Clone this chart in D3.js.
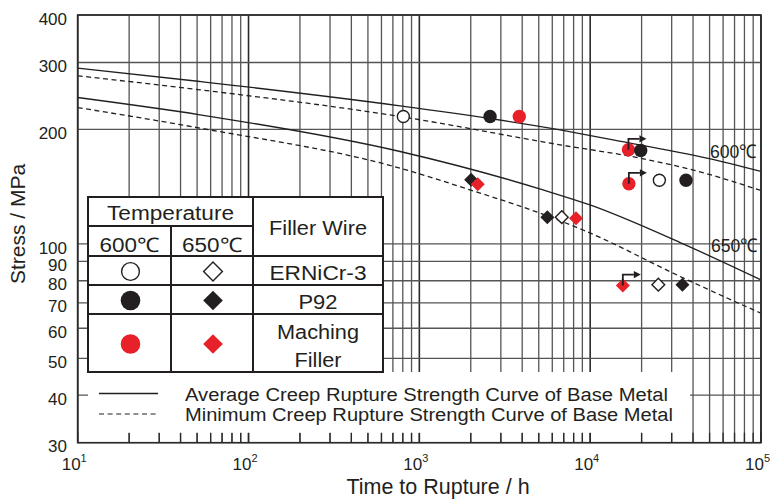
<!DOCTYPE html>
<html><head><meta charset="utf-8">
<script src="https://cdn.jsdelivr.net/npm/d3@7"></script>
<style>
body{margin:0;background:#fff;}
text{font-family:"Liberation Sans",Arial,sans-serif;fill:#231f20;}
</style>
</head><body><svg id="c" width="774" height="499"></svg>
<script>
// ---------- data ----------
const yTickValues = [30,40,50,60,70,80,90,100,200,300,400];
const xDecadeExponents = [1,2,3,4,5];

const avg600Time   = [10, 52, 771, 6668, 13610, 48190, 100000];
const avg600Stress = [290, 267.4, 230.7, 199.5, 187.8, 168.1, 155.1];
const min600Time   = [10, 52, 771, 6668, 19590, 43950, 100000];
const min600Stress = [276.8, 254.3, 216.3, 182.2, 168.1, 154.7, 138.1];
const avg650Time   = [10, 52, 771, 5297, 9977, 34990, 100000];
const avg650Stress = [242.7, 218.6, 175.0, 138.7, 126.6, 100, 80.4];
const min650Time   = [10, 52, 771, 1982, 5821, 9080, 34990, 100000];
const min650Stress = [228.4, 201.6, 158.2, 138.7, 117.8, 108.8, 81.4, 65.7];

const pts600Time   = [806, 2594, 3846, 16750, 19770, 16850, 25410, 36390];
const pts600Stress = [216.4, 216.4, 216.4, 176.8, 176.0, 143.9, 147.1, 147.1];
const pts600Wire   = ["ERNiCr-3","P92","Matching","Matching","P92","Matching","ERNiCr-3","P92"];
const runout600    = [false,false,false,true,false,true,false,false];

const pts650Time   = [2009, 2198, 5610, 6820, 8260, 15530, 25060, 34670];
const pts650Stress = [147.4, 143.6, 117.6, 117.6, 116.8, 77.7, 78.1, 78.1];
const pts650Wire   = ["P92","Matching","P92","ERNiCr-3","Matching","Matching","ERNiCr-3","P92"];
const runout650    = [false,false,false,false,false,true,false,false];

const tempLabels = ["600℃","650℃"];
const wireLabels = ["ERNiCr-3","P92","Maching"];
const legendLabels = ["Average Creep Rupture Strength Curve of Base Metal",
                      "Minimum Creep Rupture Strength Curve of Base Metal"];

// ---------- setup ----------
const RED = "#e8202a", BLACK = "#231f20";
const svg = d3.select("#c");
const x = d3.scaleLog().domain([10, 1e5]).range([77.7, 761]);
const y = d3.scaleLog().domain([30, 400]).range([442.7, 15]);
const isDecade = d => Math.abs(Math.log10(d) - Math.round(Math.log10(d))) < 1e-9;

// grid
const gridX = x.ticks();
svg.append("g").selectAll("line").data(gridX).join("line")
  .attr("x1", d => x(d)).attr("x2", d => x(d))
  .attr("y1", y(400)).attr("y2", y(30))
  .attr("stroke", d => isDecade(d) ? "#2a2a2a" : "#555")
  .attr("stroke-width", d => isDecade(d) ? 1.6 : 1.3);
svg.append("g").selectAll("line").data(yTickValues).join("line")
  .attr("x1", x(10)).attr("x2", x(1e5))
  .attr("y1", d => y(d)).attr("y2", d => y(d))
  .attr("stroke", "#555").attr("stroke-width", 1.3);

// curves
const line = d3.line().curve(d3.curveMonotoneX).x(d => x(d[0])).y(d => y(d[1]));
const curves = [
  [avg600Time, avg600Stress, false],
  [min600Time, min600Stress, true],
  [avg650Time, avg650Stress, false],
  [min650Time, min650Stress, true]
];
curves.forEach(([t, s, dashed]) => {
  svg.append("path").datum(d3.zip(t, s)).attr("d", line)
    .attr("fill", "none").attr("stroke", BLACK).attr("stroke-width", 1.3)
    .attr("stroke-dasharray", dashed ? "5,3.5" : null);
});

// legend white box (below table)
svg.append("rect").attr("x", 88).attr("y", 372).attr("width", 602).attr("height", 61).attr("fill", "#fff");

// bottom inward ticks (visible under legend box)
svg.append("g").selectAll("line").data(gridX).join("line")
  .attr("x1", d => x(d)).attr("x2", d => x(d))
  .attr("y1", y(30)).attr("y2", y(30) - 10)
  .attr("stroke", "#2a2a2a").attr("stroke-width", 1.3);

// frame
svg.append("rect").attr("x", x(10)).attr("y", y(400))
  .attr("width", x(1e5) - x(10)).attr("height", y(30) - y(400))
  .attr("fill", "none").attr("stroke", "#2a2a2a").attr("stroke-width", 1.6);

// y tick labels
svg.append("g").selectAll("text").data(yTickValues).join("text")
  .attr("x", 67).attr("y", d => y(d) + 3.5).attr("dy", "0.36em")
  .attr("text-anchor", "end").attr("font-size", 17).text(d => d);

// x tick labels
const xl = svg.append("g").selectAll("text").data(xDecadeExponents).join("text")
  .attr("x", d => x(Math.pow(10, d)) - 16).attr("y", 470).attr("font-size", 17);
xl.append("tspan").text("10");
xl.append("tspan").attr("dy", -8).attr("font-size", 11).text(d => d);

// axis titles
svg.append("text").attr("x", 438).attr("y", 494).attr("text-anchor", "middle")
  .attr("font-size", 21.5).text("Time to Rupture / h");
svg.append("text").attr("transform", "translate(25,224) rotate(-90)")
  .attr("text-anchor", "middle").attr("font-size", 21).text("Stress / MPa");

// curve labels
svg.append("text").attr("x", 757).attr("y", 158).attr("text-anchor", "end")
  .attr("font-size", 19).attr("textLength", 47).attr("lengthAdjust", "spacingAndGlyphs").text(tempLabels[0]);
svg.append("text").attr("x", 758).attr("y", 251.5).attr("text-anchor", "end")
  .attr("font-size", 19).attr("textLength", 47).attr("lengthAdjust", "spacingAndGlyphs").text(tempLabels[1]);

// markers
function marker(g, cx, cy, temp, wire, size) {
  const fill = wire === "ERNiCr-3" ? "#fff" : (wire === "P92" ? BLACK : RED);
  if (temp === 600) {
    g.append("circle").attr("cx", cx).attr("cy", cy).attr("r", wire === "ERNiCr-3" ? size - 0.7 : size)
      .attr("fill", fill).attr("stroke", wire === "ERNiCr-3" ? BLACK : "none").attr("stroke-width", 1.4);
  } else {
    const h = wire === "ERNiCr-3" ? size + 0.2 : size + 0.8;
    g.append("path").attr("d", `M${cx},${cy - h}L${cx + h},${cy}L${cx},${cy + h}L${cx - h},${cy}Z`)
      .attr("fill", fill).attr("stroke", wire === "ERNiCr-3" ? BLACK : "none").attr("stroke-width", 1.4);
  }
}
const gp = svg.append("g");
pts600Time.forEach((t, i) => marker(gp, x(t), y(pts600Stress[i]), 600, pts600Wire[i], 6.7));
pts650Time.forEach((t, i) => marker(gp, x(t), y(pts650Stress[i]), 650, pts650Wire[i], 6.2));

// run-out arrows
function arrow(cx, cy) {
  const top = cy - 11, hx = cx + 11;
  svg.append("path").attr("d", `M${cx},${cy}V${top}H${hx}`)
    .attr("fill", "none").attr("stroke", BLACK).attr("stroke-width", 1.8);
  svg.append("path").attr("d", `M${hx},${top - 3.6}L${hx + 7},${top}L${hx},${top + 3.6}Z`).attr("fill", BLACK);
}
pts600Time.forEach((t, i) => { if (runout600[i]) arrow(x(t), y(pts600Stress[i])); });
pts650Time.forEach((t, i) => { if (runout650[i]) arrow(x(t), y(pts650Stress[i])); });

// ---------- table legend ----------
const T = svg.append("g");
const tx0 = 88, tx1 = 171, tx2 = 253, tx3 = 383;
const ty0 = 197, ty1 = 226, ty2 = 256, ty3 = 285, ty4 = 314, ty5 = 372;
T.append("rect").attr("x", tx0).attr("y", ty0).attr("width", tx3 - tx0).attr("height", ty5 - ty0)
  .attr("fill", "#fff").attr("stroke", BLACK).attr("stroke-width", 2);
const tl = (x1, y1, x2, y2) => T.append("line").attr("x1", x1).attr("y1", y1).attr("x2", x2).attr("y2", y2)
  .attr("stroke", BLACK).attr("stroke-width", 2);
tl(tx0, ty1, tx2, ty1);
tl(tx0, ty2, tx3, ty2);
tl(tx0, ty3, tx3, ty3);
tl(tx0, ty4, tx3, ty4);
tl(tx1, ty1, tx1, ty5);
tl(tx2, ty0, tx2, ty5);
const tt = (cx, by, s, w) => T.append("text").attr("x", cx).attr("y", by).attr("text-anchor", "middle")
  .attr("font-size", 20).attr("textLength", w).attr("lengthAdjust", "spacingAndGlyphs").text(s);
tt((tx0 + tx2) / 2, 220, "Temperature", 127);
tt((tx0 + tx1) / 2, 251.5, tempLabels[0], 60);
tt((tx1 + tx2) / 2, 251.5, tempLabels[1], 60);
tt((tx2 + tx3) / 2, 235, "Filler Wire", 98);
tt((tx2 + tx3) / 2, 280, wireLabels[0], 97);
tt((tx2 + tx3) / 2, 309, wireLabels[1], 39);
tt((tx2 + tx3) / 2, 339, wireLabels[2], 82);
tt((tx2 + tx3) / 2, 366.5, "Filler", 47);
const lx600 = (tx0 + tx1) / 2 + 1, lx650 = (tx1 + tx2) / 2 + 1;
marker(T, lx600, 271.5, 600, "ERNiCr-3", 9.6);
marker(T, lx650, 271.5, 650, "ERNiCr-3", 9.2);
marker(T, lx600, 300.5, 600, "P92", 9.8);
marker(T, lx650, 300.5, 650, "P92", 9.0);
marker(T, lx600, 344, 600, "Matching", 9.8);
marker(T, lx650, 344, 650, "Matching", 9.0);

// line-style legend
svg.append("line").attr("x1", 99).attr("x2", 158).attr("y1", 393.5).attr("y2", 393.5)
  .attr("stroke", BLACK).attr("stroke-width", 1.6);
svg.append("line").attr("x1", 99).attr("x2", 157).attr("y1", 414).attr("y2", 414)
  .attr("stroke", BLACK).attr("stroke-width", 1.2).attr("stroke-dasharray", "5,3.6");
svg.append("text").attr("x", 185).attr("y", 400.5).attr("font-size", 18)
  .attr("textLength", 483).attr("lengthAdjust", "spacingAndGlyphs").text(legendLabels[0]);
svg.append("text").attr("x", 185).attr("y", 421).attr("font-size", 18)
  .attr("textLength", 488).attr("lengthAdjust", "spacingAndGlyphs").text(legendLabels[1]);
</script>
</body></html>
